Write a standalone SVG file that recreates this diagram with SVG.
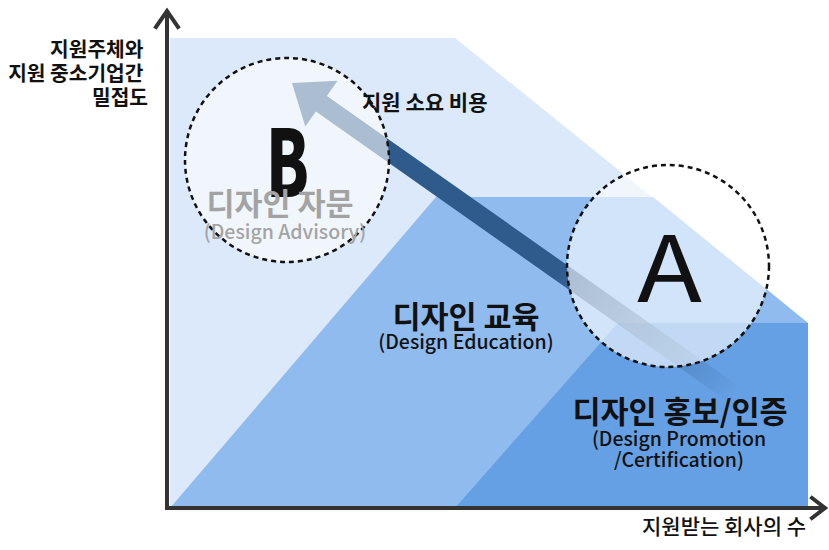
<svg xmlns="http://www.w3.org/2000/svg" width="829" height="550" viewBox="0 0 829 550">
<defs>
<style>
.kb{font-family:"Noto Sans CJK KR","Noto Sans",sans-serif;font-weight:700;fill:#111}
.en{font-family:"Noto Sans CJK KR","Noto Sans",sans-serif;font-weight:500;fill:#111;font-size:19.5px}
.ax{stroke:#333;stroke-width:4;fill:none;stroke-linecap:square}
.circ{fill:#ffffff;fill-opacity:0.6;stroke:#111;stroke-width:2.5;stroke-dasharray:5 4}
</style>
<linearGradient id="arrowGrad" gradientUnits="userSpaceOnUse" x1="292" y1="83" x2="735" y2="395">
<stop offset="0" stop-color="#2e5a8c" stop-opacity="1"/>
<stop offset="0.6" stop-color="#2e5a8c" stop-opacity="1"/>
<stop offset="1" stop-color="#2e5a8c" stop-opacity="0"/>
</linearGradient>
</defs>
<rect width="829" height="550" fill="#ffffff"/>
<g id="regions">
<polygon id="region-light" points="170,38 455,38 808,323 808,508 170,508" fill="#dbe9fb"/>
<polygon id="region-medium" points="170,508 436,197 653,197 808,323 808,508" fill="#8fbbef"/>
<polygon id="region-dark" points="455,508 618,323 808,323 808,508" fill="#65a0e4"/>
</g>
<g id="axes">
<line class="ax" x1="167" y1="12" x2="167" y2="508"/>
<polyline class="ax" points="156,27 167,11 178,27"/>
<line class="ax" x1="167" y1="508" x2="824" y2="508"/>
<polyline class="ax" points="812,498 825,508 812,518"/>
</g>
<g id="connectors">
<polygon id="cost-arrow" points="292,83 337.5,80.8 326.9,95.9 740.5,387.2 729.5,402.8 315.9,111.5 305.3,126.6" fill="url(#arrowGrad)"/>
</g>
<g id="node-B">
<circle class="circ" cx="287" cy="160" r="102"/>
<text class="kb" x="266" y="197" font-size="92" textLength="43" lengthAdjust="spacingAndGlyphs" style="font-weight:900">B</text>
<text class="kb" x="280" y="215" font-size="30.5" text-anchor="middle" style="fill:#a3a3a3">디자인 자문</text>
<text class="en" x="285" y="239" text-anchor="middle" style="fill:#a3a3a3">(Design Advisory)</text>
</g>
<g id="node-A">
<circle class="circ" cx="668" cy="266" r="101"/>
<text x="637" y="302" font-size="92" font-family="Noto Sans CJK KR, Noto Sans, sans-serif" fill="#111" textLength="65" lengthAdjust="spacingAndGlyphs">A</text>
</g>
<g id="node-education">
<text class="kb" x="466" y="328" font-size="30.5" text-anchor="middle">디자인 교육</text>
<text class="en" x="466" y="349" text-anchor="middle">(Design Education)</text>
</g>
<g id="node-promotion">
<text class="kb" x="680" y="423" font-size="30.5" text-anchor="middle">디자인 홍보/인증</text>
<text class="en" x="679" y="446" text-anchor="middle">(Design Promotion</text>
<text class="en" x="679" y="467" text-anchor="middle">/Certification)</text>
</g>
<g id="labels">
<text class="kb" font-size="20.3" text-anchor="end">
<tspan x="148" y="57">지원주체와</tspan>
<tspan x="148" y="81">지원 중소기업간</tspan>
<tspan x="148" y="105">밀접도</tspan>
</text>
<text class="kb" x="362" y="110" font-size="21">지원 소요 비용</text>
<text class="kb" x="642" y="534" font-size="21" style="font-weight:500">지원받는 회사의 수</text>
</g>
</svg>
